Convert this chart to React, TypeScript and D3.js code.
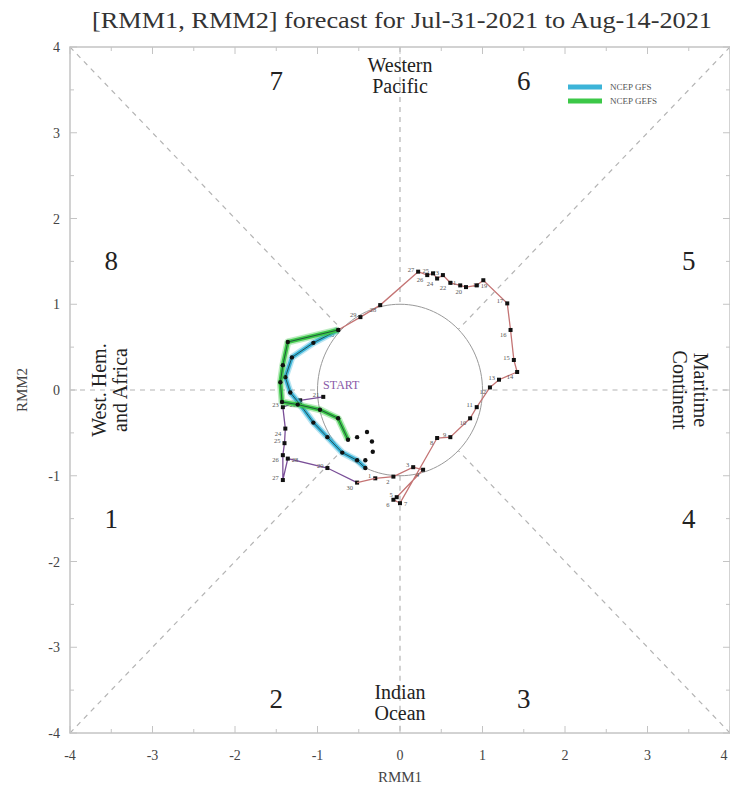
import * as d3 from 'd3';

// observed RMM trajectory, last 40 days (Jun-21 .. Jul-30)
const juneDays = [21, 22, 23, 24, 25, 26, 27, 28, 29, 30];
const juneRmm1 = [-0.93, -1.21, -1.42, -1.39, -1.4, -1.42, -1.42, -1.36, -0.88, -0.52];
const juneRmm2 = [-0.08, -0.12, -0.2, -0.45, -0.62, -0.76, -1.05, -0.8, -0.91, -1.08];

const julyDays = [1, 2, 3, 4, 5, 6, 7, 8, 9, 10, 11, 12, 13, 14, 15, 16, 17, 18, 19, 20, 21, 22, 23, 24, 25, 26, 27, 28, 29, 30];
const julyRmm1 = [-0.3, -0.08, 0.16, 0.28, -0.04, -0.08, 0.0, 0.45, 0.61, 0.85, 0.93, 1.09, 1.2, 1.42, 1.38, 1.34, 1.3, 1.01, 0.93, 0.8, 0.73, 0.61, 0.52, 0.45, 0.4, 0.33, 0.22, -0.24, -0.48, -0.75];
const julyRmm2 = [-1.03, -1.01, -0.9, -0.93, -1.25, -1.28, -1.32, -0.56, -0.55, -0.33, -0.2, 0.03, 0.12, 0.21, 0.35, 0.7, 1.01, 1.28, 1.22, 1.2, 1.22, 1.25, 1.34, 1.3, 1.36, 1.34, 1.38, 0.99, 0.85, 0.7];

// forecasts from Jul-31
const gfsRmm1 = [-0.75, -1.05, -1.31, -1.39, -1.33, -1.21, -1.05, -0.88, -0.7, -0.52, -0.42];
const gfsRmm2 = [0.7, 0.55, 0.38, 0.15, -0.03, -0.17, -0.38, -0.55, -0.73, -0.82, -0.91];
const gefsRmm1 = [-0.75, -1.36, -1.42, -1.45, -1.43, -1.24, -0.97, -0.75, -0.63];
const gefsRmm2 = [0.7, 0.56, 0.29, 0.09, -0.14, -0.17, -0.23, -0.33, -0.58];
const gefsTailRmm1 = [-0.52, -0.4, -0.34, -0.33, -0.42];
const gefsTailRmm2 = [-0.55, -0.49, -0.6, -0.72, -0.82];

const ticks = [-4, -3, -2, -1, 0, 1, 2, 3, 4];
const minorTicks = d3.range(-4, 4.01, 0.5);

const W = 730, H = 789;
const x = d3.scaleLinear().domain([-4, 4]).range([70, 730]);
const y = d3.scaleLinear().domain([-4, 4]).range([733, 47]);

const pts = (a: number[], b: number[]) => a.map((v, i) => [x(v), y(b[i])] as [number, number]);
const line = d3.line();
const serif = "'Liberation Serif', 'Times New Roman', Times, serif";

const Track = ({ xs, ys, days, color }: any) => {
  const p = pts(xs, ys);
  // day labels sit left of the point; flip one to the right if it would land on an earlier label
  const placed: [number, number][] = [];
  const labels = p.map((d, i) => {
    let lx = d[0] - 4, ly = d[1] + (i % 2 ? 7 : 0), anchor = 'end';
    if (placed.some(q => Math.abs(q[0] - lx) < 9 && Math.abs(q[1] - ly) < 7)) {
      lx = d[0] + 4; ly = d[1] + 3; anchor = 'start';
    }
    placed.push([lx, ly]);
    return { lx, ly, anchor };
  });
  return (
    <g>
      <path d={line(p) || ''} fill="none" stroke={color} strokeWidth={1.3} />
      {p.map((d, i) => (
        <g key={i}>
          <rect x={d[0] - 2} y={d[1] - 2} width={4} height={4} fill="#111" />
          <text x={labels[i].lx} y={labels[i].ly} fontSize={6.5} textAnchor={labels[i].anchor} fill="#555">{days[i]}</text>
        </g>
      ))}
    </g>
  );
};

const Forecast = ({ xs, ys, color }: any) => {
  const p = pts(xs, ys);
  return (
    <g>
      <path d={line(p) || ''} fill="none" stroke={color} strokeWidth={7} strokeOpacity={0.35} strokeLinejoin="round" />
      <path d={line(p) || ''} fill="none" stroke={color} strokeWidth={4} strokeLinejoin="round" />
      <path d={line(p) || ''} fill="none" stroke="#1a3a3a" strokeWidth={0.8} />
      {p.map((d, i) => <circle key={i} cx={d[0]} cy={d[1]} r={2.2} fill="#111" />)}
    </g>
  );
};

export default function App() {
  const r45 = Math.SQRT1_2;
  const dashed = [
    [[-4, 4], [-r45, r45]], [[4, 4], [r45, r45]], [[-4, -4], [-r45, -r45]], [[4, -4], [r45, -r45]],
    [[0, 4], [0, 1]], [[0, -1], [0, -4]], [[-4, 0], [-1, 0]], [[1, 0], [4, 0]],
  ];
  const circle = d3.range(0, 361, 3).map(a => [x(Math.cos(a * Math.PI / 180)), y(Math.sin(a * Math.PI / 180))] as [number, number]);
  const phase = [
    { t: '7', px: -1.5, py: 3.6 }, { t: '6', px: 1.5, py: 3.6 },
    { t: '8', px: -3.5, py: 1.5 }, { t: '5', px: 3.5, py: 1.5 },
    { t: '1', px: -3.5, py: -1.5 }, { t: '4', px: 3.5, py: -1.5 },
    { t: '2', px: -1.5, py: -3.6 }, { t: '3', px: 1.5, py: -3.6 },
  ];
  const gray = '#444';
  return (
    <svg width={W} height={H} style={{ position: 'absolute', left: 0, top: 0, background: '#fff', fontFamily: serif }}>
      <text x={402} y={28} textAnchor="middle" fontSize={24} fill="#333" textLength={620} lengthAdjust="spacingAndGlyphs">
        [RMM1, RMM2] forecast for Jul-31-2021 to Aug-14-2021
      </text>

      {dashed.map((s, i) => (
        <line key={i} x1={x(s[0][0])} y1={y(s[0][1])} x2={x(s[1][0])} y2={y(s[1][1])} stroke="#b4b4b4" strokeWidth={1.2} strokeDasharray="5,5" />
      ))}
      <path d={line(circle) || ''} fill="none" stroke="#999" strokeWidth={1} />

      <rect x={x(-4)} y={y(4)} width={x(4) - x(-4)} height={y(-4) - y(4)} fill="none" stroke="#c4c4c4" strokeWidth={1.5} />
      {minorTicks.map(v => {
        const len = Number.isInteger(v) ? 7 : 4;
        return (
          <g key={v} stroke="#c4c4c4" strokeWidth={1}>
            <line x1={x(v)} x2={x(v)} y1={y(-4)} y2={y(-4) - len} />
            <line x1={x(v)} x2={x(v)} y1={y(4)} y2={y(4) + len} />
            <line y1={y(v)} y2={y(v)} x1={x(-4)} x2={x(-4) + len} />
            <line y1={y(v)} y2={y(v)} x1={x(4)} x2={x(4) - len} />
          </g>
        );
      })}
      {ticks.map(v => (
        <g key={v} fontSize={14} fill={gray}>
          <text x={Math.min(x(v), 724)} y={y(-4) + 27} textAnchor="middle">{v}</text>
          <text x={x(-4) - 10} y={y(v) + 5} textAnchor="end">{v}</text>
        </g>
      ))}
      <text x={400} y={782} textAnchor="middle" fontSize={15} fill={gray}>RMM1</text>
      <text transform="translate(27,390) rotate(-90)" textAnchor="middle" fontSize={15} fill={gray}>RMM2</text>

      {phase.map(p => (
        <text key={p.t} x={x(p.px)} y={y(p.py) + 9} textAnchor="middle" fontSize={27} fill="#222">{p.t}</text>
      ))}
      <g fontSize={20} fill="#222" textAnchor="middle">
        <text x={400} y={72}>Western</text>
        <text x={400} y={93}>Pacific</text>
        <text x={400} y={699}>Indian</text>
        <text x={400} y={720}>Ocean</text>
        <text transform="translate(106,390) rotate(-90)">West. Hem.</text>
        <text transform="translate(127,390) rotate(-90)">and Africa</text>
        <text transform="translate(694,390) rotate(90)">Maritime</text>
        <text transform="translate(673,390) rotate(90)">Continent</text>
      </g>

      <Track xs={juneRmm1} ys={juneRmm2} days={juneDays} color="#7a4f98" />
      <Track xs={julyRmm1} ys={julyRmm2} days={julyDays} color="#c47474" />
      <line x1={x(juneRmm1[9])} y1={y(juneRmm2[9])} x2={x(julyRmm1[0])} y2={y(julyRmm2[0])} stroke="#c47474" strokeWidth={1.3} />
      <text x={x(juneRmm1[0]) + 18} y={y(juneRmm2[0]) - 8} textAnchor="middle" fontSize={12} fill="#8a5aa8">START</text>

      <Forecast xs={gfsRmm1} ys={gfsRmm2} color="#3cb4d8" />
      <Forecast xs={gefsRmm1} ys={gefsRmm2} color="#3cc848" />
      {gefsTailRmm1.map((v, i) => <circle key={i} cx={x(v)} cy={y(gefsTailRmm2[i])} r={2.2} fill="#111" />)}

      <g>
        <line x1={568} x2={602} y1={87} y2={87} stroke="#3cb4d8" strokeWidth={5} />
        <line x1={568} x2={602} y1={101} y2={101} stroke="#3cc848" strokeWidth={5} />
        <text x={610} y={90} fontSize={9} fill="#555">NCEP GFS</text>
        <text x={610} y={104} fontSize={9} fill="#555">NCEP GEFS</text>
      </g>
    </svg>
  );
}
